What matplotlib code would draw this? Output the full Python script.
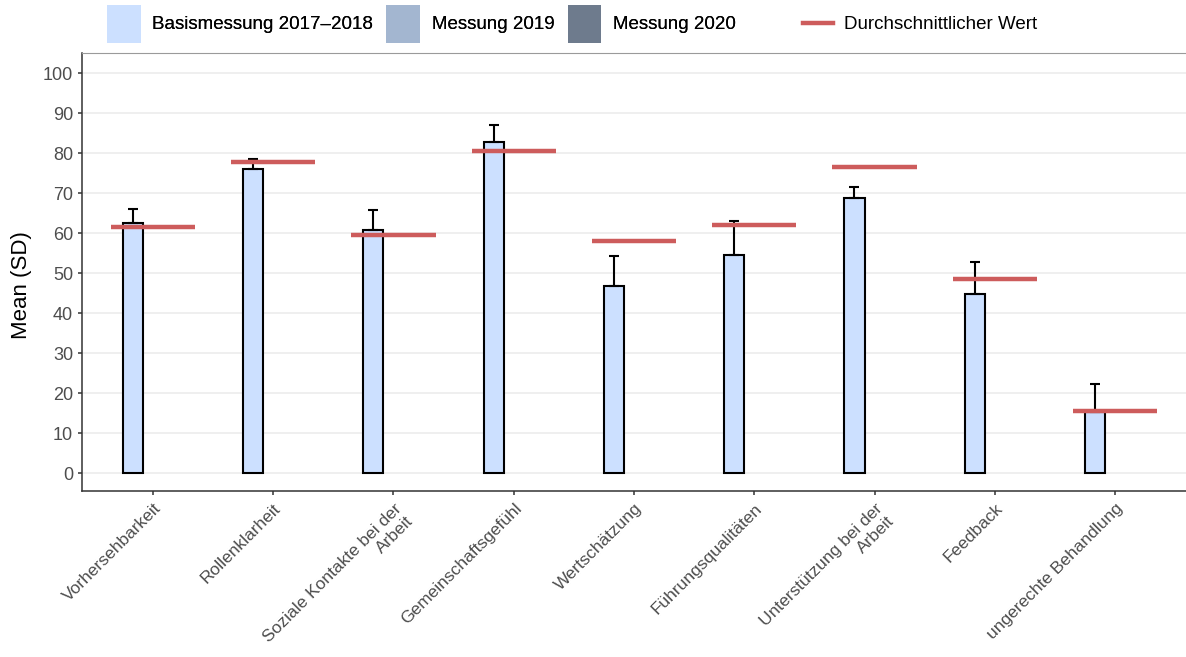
"""Arbeitsbedingungen - Mittelwerte mit SD und Durchschnittswert"""

import numpy as np
import matplotlib.pyplot as plt
from matplotlib.patches import Patch
from matplotlib.lines import Line2D

plt.rcParams['font.family'] = ['Liberation Sans', 'DejaVu Sans']

# Categories (x axis)
categories = [
    "Vorhersehbarkeit",
    "Rollenklarheit",
    "Soziale Kontakte bei der\nArbeit",
    "Gemeinschaftsgefühl",
    "Wertschätzung",
    "Führungsqualitäten",
    "Unterstützung bei der\nArbeit",
    "Feedback",
    "ungerechte Behandlung",
]

# Basismessung 2017-2018 (only series with data)
base_mean = [62.5, 76.0, 60.7, 82.8, 46.8, 54.4, 68.8, 44.8, 15.3]
base_sd = [3.5, 2.6, 5.1, 4.1, 7.5, 8.6, 2.8, 8.0, 7.0]

# Durchschnittlicher Wert (reference line per category)
avg_value = [61.5, 77.8, 59.5, 80.6, 58.0, 61.9, 76.6, 48.5, 15.6]

# Legend entries
series_names = ["Basismessung 2017\u20132018", "Messung 2019", "Messung 2020"]
series_colors = ["#cce0ff", "#a3b6d0", "#6e7b8d"]
avg_label = "Durchschnittlicher Wert"
avg_color = "#cd5c5c"


def plot_chart():
    fig = plt.figure(figsize=(11.86, 6.57), dpi=100)
    ax = fig.add_axes([82 / 1186, 1 - 491 / 657, 1 - 82 / 1186, (491 - 53) / 657])

    x = np.arange(1, len(categories) + 1)
    bw = 0.5 / 3

    # Dodged bars: baseline in first slot
    ax.bar(x - bw, base_mean, width=bw, color=series_colors[0],
           edgecolor="black", linewidth=1.5, zorder=3)
    ax.errorbar(x - bw, base_mean, yerr=[np.zeros(len(base_sd)), base_sd],
                fmt="none", ecolor="black", elinewidth=1.5, capsize=3.5,
                capthick=1.5, zorder=4)

    # Average reference lines
    ax.hlines(avg_value, x - 0.35, x + 0.35, color=avg_color, linewidth=3.2, zorder=5)

    ax.set_xlim(0.41, 9.59)
    ax.set_ylim(-4.5, 105)
    ax.set_yticks(range(0, 101, 10))
    ax.set_xticks(x)
    ax.set_xticklabels(categories, rotation=45, ha="right", va="top",
                       rotation_mode="anchor")
    ax.tick_params(axis="both", labelsize=12.5, labelcolor="#4d4d4d",
                   color="#333333", length=3, width=1.1)
    ax.tick_params(axis="y", labelsize=13)
    ax.tick_params(axis="x", pad=4)

    ax.grid(axis="y", color="#ebebeb", linewidth=1.1, zorder=0)
    ax.set_axisbelow(True)

    for side in ["left", "bottom"]:
        ax.spines[side].set_color("#333333")
        ax.spines[side].set_linewidth(1.1)
    ax.spines["top"].set_color("#9a9a9a")
    ax.spines["top"].set_linewidth(0.8)
    ax.spines["right"].set_visible(False)

    ax.set_ylabel("Mean (SD)", fontsize=16)
    ax.yaxis.set_label_coords(-0.045, 0.47)

    # Legends at the top
    handles = [Patch(facecolor=c, edgecolor="none") for c in series_colors]
    leg1 = fig.legend(handles, series_names, loc="upper left",
                      bbox_to_anchor=(107 / 1186, 1 - 5 / 657), ncol=3,
                      frameon=False, fontsize=13.5, borderpad=0,
                      handlelength=1.8, handleheight=2.7, handletextpad=0.62,
                      columnspacing=0.7, borderaxespad=0)
    fig.add_artist(leg1)
    line_handle = [Line2D([0], [0], color=avg_color, linewidth=3.2)]
    fig.legend(line_handle, [avg_label], loc="upper left",
               bbox_to_anchor=(803 / 1186, 1 - 16 / 657), frameon=False,
               fontsize=13.5, borderpad=0, handlelength=1.6, handleheight=0.7,
               handletextpad=0.6, borderaxespad=0)

    fig.savefig("out.png", dpi=100)


if __name__ == "__main__":
    plot_chart()
